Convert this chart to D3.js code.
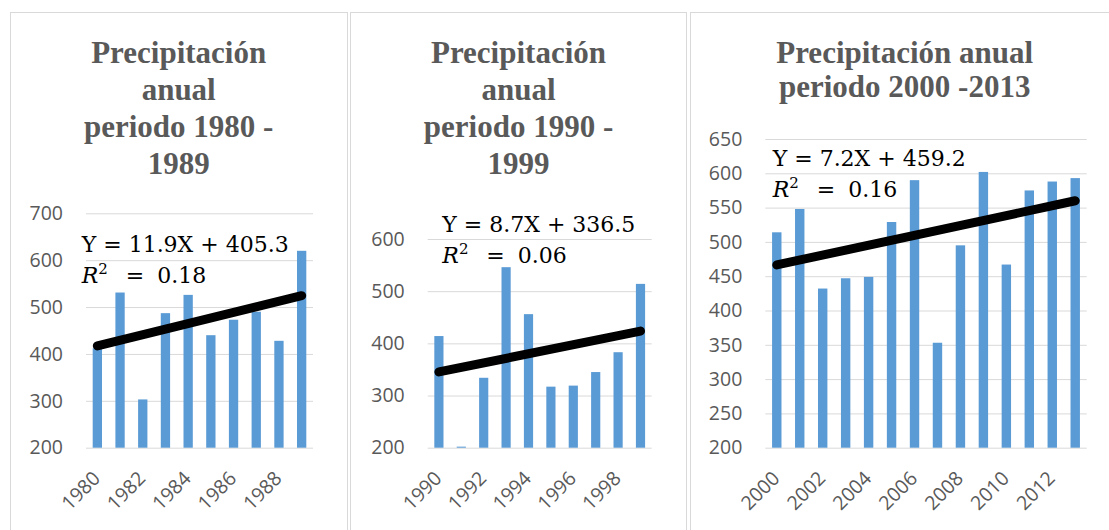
<!DOCTYPE html>
<html>
<head>
<meta charset="utf-8">
<script src="https://cdn.jsdelivr.net/npm/d3@7"></script>
<style>
  html, body { margin: 0; padding: 0; background: #fff; }
  svg { display: block; }
</style>
</head>
<body>
<svg id="chart" width="1109" height="530"></svg>
<script>
// ---- Data ----
const years1 = ["1980","1981","1982","1983","1984","1985","1986","1987","1988","1989"];
const precip1 = [412, 531, 303, 487, 526, 440, 473, 490, 428, 620];
const years2 = ["1990","1991","1992","1993","1994","1995","1996","1997","1998","1999"];
const precip2 = [414, 202, 334, 546, 456, 317, 319, 345, 383, 514];
const years3 = ["2000","2001","2002","2003","2004","2005","2006","2007","2008","2009","2010","2011","2012","2013"];
const precip3 = [514, 548, 432, 447, 449, 529, 590, 353, 495, 602, 467, 575, 588, 593];

const titles1 = ["Precipitación", "anual", "periodo 1980 -", "1989"];
const titles2 = ["Precipitación", "anual", "periodo 1990 -", "1999"];
const titles3 = ["Precipitación anual", "periodo 2000 -2013"];

const trendSlope = [11.9, 8.7, 7.2];
const trendIntercept = [405.3, 336.5, 459.2];
const trendEq = ["Y = 11.9X + 405.3", "Y = 8.7X + 336.5", "Y = 7.2X + 459.2"];
const trendR2 = ["0.18", "0.06", "0.16"];

const yTicks1 = [200, 300, 400, 500, 600, 700];
const yTicks2 = [200, 300, 400, 500, 600];
const yTicks3 = [200, 250, 300, 350, 400, 450, 500, 550, 600, 650];

// ---- Layout ----
const panels = [
  { cats: years1, vals: precip1, titles: titles1, ticks: yTicks1, k: 0,
    frameX: 10.5, frameW: 337, left: 86, right: 313, top: 213.3, bottom: 447.7,
    titleCx: 178.7, titleY0: 63, titleDy: 37, eqX: 81.7, eqY: 251.7, r2Y: 283.3 },
  { cats: years2, vals: precip2, titles: titles2, ticks: yTicks2, k: 1,
    frameX: 350.5, frameW: 336, left: 427.7, right: 651.7, top: 239, bottom: 447.7,
    titleCx: 518.5, titleY0: 63, titleDy: 37, eqX: 442.3, eqY: 232.3, r2Y: 262.7 },
  { cats: years3, vals: precip3, titles: titles3, ticks: yTicks3, k: 2,
    frameX: 690.5, frameW: 440, left: 765.3, right: 1086.7, top: 139, bottom: 447.7,
    titleCx: 904.7, titleY0: 63, titleDy: 33.5, eqX: 772.7, eqY: 165.7, r2Y: 197.3 }
];

const svg = d3.select("#chart");
svg.append("rect").attr("width", 1109).attr("height", 530).attr("fill", "#fff");

const labelFont = "'Open Sans', 'Liberation Sans', sans-serif";
const gray = "#595959";

panels.forEach(p => {
  const g = svg.append("g");
  // frame
  g.append("rect")
    .attr("x", p.frameX).attr("y", 12.5)
    .attr("width", p.frameW).attr("height", 560)
    .attr("fill", "none").attr("stroke", "#d9d9d9").attr("stroke-width", 1);

  // title
  const t = g.append("text")
    .attr("text-anchor", "middle")
    .attr("font-family", "'Liberation Serif', 'Times New Roman', serif")
    .attr("font-weight", "bold")
    .attr("font-size", 31)
    .attr("fill", gray);
  p.titles.forEach((line, i) => {
    t.append("tspan").attr("x", p.titleCx).attr("y", p.titleY0 + i * p.titleDy).text(line);
  });

  const yMin = p.ticks[0], yMax = p.ticks[p.ticks.length - 1];
  const y = d3.scaleLinear().domain([yMin, yMax]).range([p.bottom, p.top]);
  const x = d3.scaleBand().domain(p.cats).range([p.left, p.right])
    .paddingInner(0.59).paddingOuter(0.295);

  // gridlines via axis
  const yAxis = d3.axisLeft(y).tickValues(p.ticks).tickSize(-(p.right - p.left)).tickPadding(23);
  const ya = g.append("g").attr("transform", `translate(${p.left},0)`).call(yAxis);
  ya.select(".domain").remove();
  ya.selectAll(".tick line").attr("stroke", "#d9d9d9").attr("stroke-width", 1);
  ya.selectAll(".tick text")
    .attr("font-family", labelFont).attr("font-size", 19.5).attr("fill", gray);

  // bars
  g.append("g").selectAll("rect").data(p.vals).join("rect")
    .attr("x", (d, i) => x(p.cats[i]))
    .attr("width", x.bandwidth())
    .attr("y", d => y(Math.max(d, yMin)))
    .attr("height", d => y(yMin) - y(Math.max(d, yMin)))
    .attr("fill", "#5b9bd5");

  // x labels (every other)
  const xl = g.append("g");
  p.cats.forEach((c, i) => {
    if (i % 2 !== 0) return;
    const cx = x(c) + x.bandwidth() / 2;
    xl.append("text")
      .attr("transform", `translate(${cx + 4},${p.bottom + 32}) rotate(-45)`)
      .attr("text-anchor", "end")
      .attr("font-family", labelFont).attr("font-size", 19.5).attr("fill", gray)
      .text(c);
  });

  // trend line from displayed equation, X = 1..n
  const n = p.cats.length;
  const trendPts = [0, n - 1].map(i => ({ cat: p.cats[i], v: trendSlope[p.k] * (i + 1) + trendIntercept[p.k] }));
  const line = d3.line().x(d => x(d.cat) + x.bandwidth() / 2).y(d => y(d.v));
  g.append("path").datum(trendPts).attr("d", line)
    .attr("fill", "none").attr("stroke", "#000").attr("stroke-width", 9)
    .attr("stroke-linecap", "round");

  // equation text
  const eqFont = "'DejaVu Serif', serif";
  g.append("text").attr("x", p.eqX).attr("y", p.eqY)
    .attr("font-family", eqFont).attr("font-size", 22).attr("fill", "#000")
    .text(trendEq[p.k]);
  const r = g.append("text").attr("x", p.eqX).attr("y", p.r2Y)
    .attr("font-family", eqFont).attr("font-size", 22).attr("fill", "#000");
  r.append("tspan").attr("font-style", "italic").text("R");
  r.append("tspan").attr("font-size", 15).attr("dy", -9).text("2");
  r.append("tspan").attr("x", p.eqX + 44).attr("dy", 9).text("=");
  r.append("tspan").attr("x", p.eqX + 75.5).text(trendR2[p.k]);
});
</script>
</body>
</html>
